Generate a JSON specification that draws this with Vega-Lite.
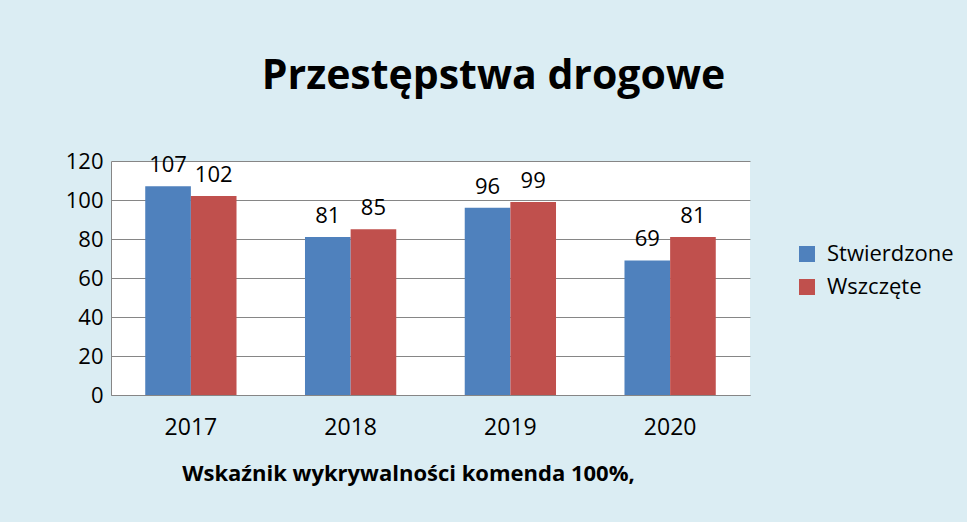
{
  "$schema": "https://vega.github.io/schema/vega-lite/v6.json",
  "autosize": {"type": "none"},
  "width": 639,
  "height": 234,
  "padding": {"left": 111, "top": 161, "right": 217, "bottom": 127},
  "background": "#dbedf3",
  "config": {
    "font": "Open Sans",
    "view": {"fill": "white", "stroke": null}
  },
  "title": {
    "text": "Przestępstwa drogowe",
    "font": "Open Sans",
    "fontSize": 41,
    "fontWeight": "bold",
    "color": "black",
    "anchor": "middle",
    "frame": "group",
    "dx": 63,
    "offset": 52
  },
  "data": {
    "values": [
      {"rok": "2017", "seria": "Stwierdzone", "wartosc": 107},
      {"rok": "2017", "seria": "Wszczęte", "wartosc": 102},
      {"rok": "2018", "seria": "Stwierdzone", "wartosc": 81},
      {"rok": "2018", "seria": "Wszczęte", "wartosc": 85},
      {"rok": "2019", "seria": "Stwierdzone", "wartosc": 96},
      {"rok": "2019", "seria": "Wszczęte", "wartosc": 99},
      {"rok": "2020", "seria": "Stwierdzone", "wartosc": 69},
      {"rok": "2020", "seria": "Wszczęte", "wartosc": 81}
    ]
  },
  "encoding": {
    "x": {
      "field": "rok",
      "type": "nominal",
      "scale": {"paddingInner": 0.4286, "paddingOuter": 0.2143},
      "axis": {
        "title": "Wskaźnik wykrywalności komenda 100%,",
        "titleFont": "Open Sans",
        "titleFontSize": 22,
        "titleFontWeight": "bold",
        "titleColor": "black",
        "titleX": 297,
        "titleY": 68,
        "titleAnchor": "middle",
        "labelAngle": 0,
        "labelFontSize": 23,
        "labelColor": "black",
        "labelPadding": 21,
        "ticks": false,
        "domainColor": "#868686",
        "grid": false
      }
    },
    "xOffset": {"field": "seria", "type": "nominal", "scale": {"paddingInner": 0, "paddingOuter": 0}},
    "y": {
      "field": "wartosc",
      "type": "quantitative",
      "scale": {"domain": [0, 120], "nice": false},
      "axis": {
        "title": null,
        "values": [0, 20, 40, 60, 80, 100, 120],
        "labelFontSize": 22,
        "labelColor": "black",
        "labelPadding": 8,
        "ticks": false,
        "domainColor": "#868686",
        "gridColor": "#868686",
        "gridOpacity": 1
      }
    }
  },
  "layer": [
    {
      "mark": {"type": "bar"},
      "encoding": {
        "color": {
          "field": "seria",
          "type": "nominal",
          "scale": {"domain": ["Stwierdzone", "Wszczęte"], "range": ["#4f81bd", "#c0504d"]},
          "legend": {
            "title": null,
            "orient": "none",
            "legendX": 685,
            "legendY": 82,
            "symbolType": "square",
            "symbolSize": 256,
            "symbolStrokeWidth": 0,
            "labelFontSize": 22,
            "labelColor": "black",
            "labelOffset": 9,
            "rowPadding": 11
          }
        }
      }
    },
    {
      "mark": {"type": "text", "baseline": "alphabetic", "dy": -14, "fontSize": 22, "color": "black", "clip": false},
      "encoding": {"text": {"field": "wartosc", "type": "quantitative"}}
    }
  ]
}
